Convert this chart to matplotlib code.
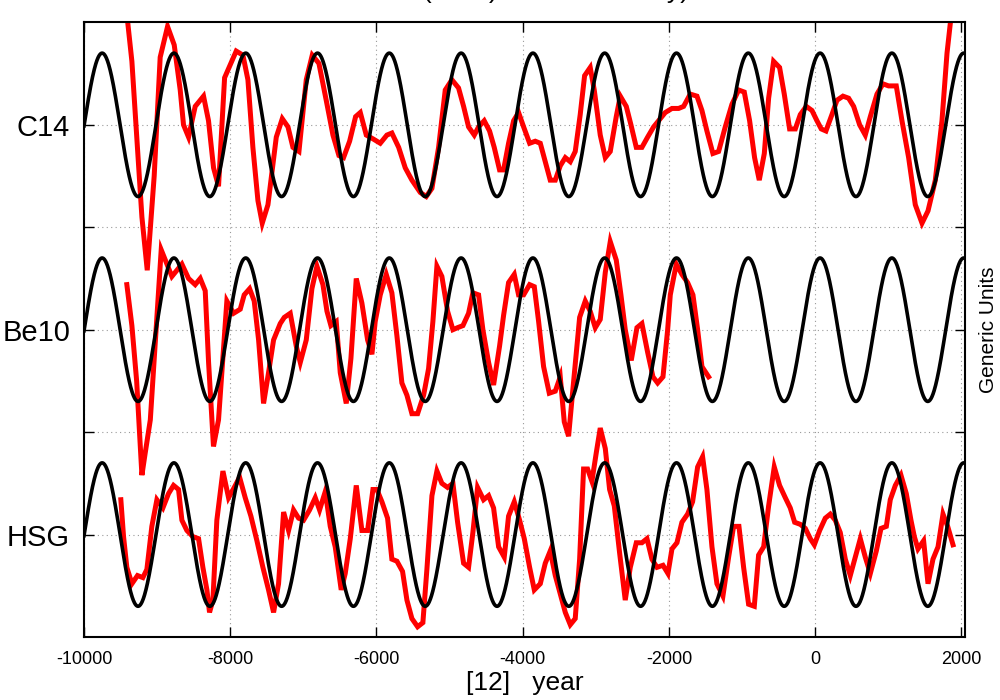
import numpy as np
import matplotlib.pyplot as plt
import matplotlib as mpl

mpl.rcParams["font.family"] = ["Liberation Sans", "DejaVu Sans"]
mpl.rcParams["axes.unicode_minus"] = False

# red proxy curves (deviation from row level, generic units)
c14_year = [-9450, -9345, -9208, -9135, -9040, -8958, -8857, -8766, -8684, -8639, -8570, -8479,
            -8365, -8297, -8228, -8160, -8077, -7918, -7826, -7758, -7690, -7621, -7562, -7484,
            -7370, -7288, -7210, -7142, -7060, -6960, -6878, -6787, -6687, -6595, -6513, -6450,
            -6367, -6285, -6221, -6139, -6040, -5948, -5857, -5789, -5696, -5606, -5515, -5401,
            -5319, -5241, -5150, -5059, -4968, -4877, -4808, -4740, -4662, -4603, -4526, -4453,
            -4389, -4316, -4261, -4193, -4124, -4056, -3987, -3905, -3828, -3759, -3691, -3623,
            -3554, -3486, -3417, -3349, -3281, -3213, -3153, -3076, -3021, -2939, -2870, -2802,
            -2720, -2665, -2583, -2519, -2446, -2369, -2291, -2209, -2118, -2050, -1958, -1867,
            -1799, -1708, -1616, -1548, -1480, -1398, -1320, -1229, -1138, -1046, -969, -896,
            -828, -764, -695, -636, -568, -486, -422, -349, -271, -203, -121, -43, 25, 84, 148,
            230, 299, 381, 458, 527, 609, 686, 755, 846, 928, 1005, 1110, 1188, 1279, 1370, 1462,
            1544, 1644, 1735, 1804, 1863, 1920]
c14_val = [0.66, 0.31, -0.45, -0.71, -0.25, 0.33, 0.48, 0.39, 0.17, 0.0, -0.06, 0.09,
           0.14, 0.02, -0.21, -0.30, 0.23, 0.36, 0.34, 0.22, -0.11, -0.37, -0.48, -0.39,
           -0.06, 0.03, -0.01, -0.11, -0.13, 0.22, 0.34, 0.30, 0.12, -0.05, -0.15, -0.16,
           -0.08, 0.04, 0.06, -0.05, -0.07, -0.09, -0.05, -0.04, -0.11, -0.21, -0.27, -0.33,
           -0.35, -0.31, -0.11, 0.17, 0.22, 0.18, 0.09, -0.01, -0.05, -0.01, 0.02, -0.03,
           -0.11, -0.22, -0.22, -0.09, 0.02, 0.06, -0.01, -0.09, -0.08, -0.09, -0.18, -0.27,
           -0.27, -0.20, -0.16, -0.18, -0.13, 0.05, 0.24, 0.28, 0.17, -0.05, -0.16, -0.13,
           0.04, 0.14, 0.09, 0.0, -0.11, -0.11, -0.06, -0.01, 0.03, 0.06, 0.08, 0.08,
           0.09, 0.15, 0.14, 0.07, -0.03, -0.14, -0.13, -0.01, 0.10, 0.17, 0.16, 0.02,
           -0.16, -0.27, -0.14, 0.13, 0.31, 0.28, 0.15, -0.02, -0.02, 0.05, 0.09, 0.07, 0.02, -0.02, -0.03,
           0.05, 0.12, 0.14, 0.13, 0.09, 0.0, -0.05, 0.04, 0.15, 0.20, 0.19, 0.19, 0.02, -0.16, -0.39, -0.48,
           -0.42, -0.27, 0.02, 0.35, 0.54, 0.85]

be10_year = [-9414, -9345, -9280, -9208, -9162, -9093, -8944, -8798, -8661, -8570, -8479, -8410,
             -8342, -8296, -8229, -8160, -8046, -7954, -7863, -7809, -7735, -7672, -7612, -7544,
             -7476, -7407, -7316, -7261, -7179, -7097, -7042, -6960, -6883, -6814, -6732, -6677,
             -6623, -6550, -6495, -6413, -6349, -6276, -6199, -6121, -6062, -6017, -5948, -5866,
             -5789, -5720, -5652, -5583, -5515, -5437, -5355, -5287, -5228, -5173, -5105, -5027,
             -4954, -4890, -4817, -4740, -4681, -4603, -4544, -4466, -4398, -4316, -4261, -4193,
             -4115, -4056, -3987, -3905, -3841, -3782, -3714, -3636, -3554, -3486, -3431, -3372,
             -3313, -3221, -3144, -3076, -3007, -2939, -2870, -2802, -2720, -2656, -2597, -2515,
             -2437, -2369, -2291, -2218, -2154, -2081, -2017, -1981, -1899, -1822, -1744, -1671,
             -1607, -1548, -1457]
be10_val = [0.22, 0.02, -0.25, -0.71, -0.60, -0.44, 0.39, 0.26, 0.32, 0.25, 0.22, 0.25,
            0.19, -0.16, -0.57, -0.44, 0.14, 0.08, 0.10, 0.17, 0.20, 0.14, -0.05, -0.36,
            -0.21, -0.05, 0.03, 0.06, 0.08, -0.08, -0.16, -0.05, 0.20, 0.31, 0.22, 0.09,
            0.02, 0.04, -0.21, -0.36, -0.14, 0.25, 0.13, -0.05, -0.12, 0.04, 0.17, 0.27,
            0.18, -0.03, -0.26, -0.32, -0.41, -0.41, -0.32, -0.19, 0.04, 0.31, 0.26, 0.09,
            0.0, 0.01, 0.02, 0.08, 0.18, 0.17, 0.0, -0.16, -0.27, -0.08, 0.07, 0.23,
            0.27, 0.17, 0.17, 0.22, 0.21, 0.04, -0.18, -0.31, -0.30, -0.23, -0.45, -0.52,
            -0.29, 0.06, 0.14, 0.09, 0.01, 0.05, 0.28, 0.43, 0.34, 0.17, 0.0, -0.15,
            0.01, 0.03, -0.11, -0.23, -0.26, -0.23, 0.0, 0.17, 0.32, 0.27, 0.23, 0.17,
            0.0, -0.18, -0.23]

hsg_year = [-9496, -9459, -9414, -9345, -9268, -9195, -9140, -9072, -9003, -8921, -8844, -8775,
            -8707, -8661, -8593, -8511, -8433, -8374, -8319, -8283, -8237, -8183, -8100, -8023,
            -7945, -7872, -7795, -7717, -7635, -7553, -7476, -7407, -7339, -7270, -7202, -7134,
            -7065, -6997, -6915, -6837, -6778, -6700, -6632, -6564, -6482, -6427, -6358, -6276,
            -6199, -6121, -6048, -5994, -5925, -5848, -5789, -5720, -5643, -5583, -5515, -5437,
            -5365, -5310, -5241, -5173, -5105, -5027, -4954, -4890, -4808, -4740, -4681, -4617,
            -4535, -4466, -4398, -4329, -4252, -4193, -4115, -4042, -3978, -3905, -3841, -3759,
            -3691, -3623, -3554, -3486, -3417, -3349, -3281, -3221, -3167, -3112, -3053, -2993,
            -2939, -2870, -2811, -2747, -2674, -2597, -2528, -2446, -2369, -2300, -2232, -2163,
            -2081, -2013, -1958, -1890, -1822, -1744, -1676, -1607, -1539, -1480, -1411, -1343,
            -1261, -1183, -1115, -1042, -978, -910, -832, -773, -704, -636, -559, -486, -408,
            -340, -280, -203, -134, -66, -11, 62, 139, 208, 276, 344, 413, 481, 550, 618, 686,
            755, 837, 901, 974, 1028, 1097, 1174, 1247, 1311, 1357, 1407, 1484, 1544, 1612, 1681,
            1749, 1813, 1886]
hsg_val = [0.17, -0.01, -0.16, -0.24, -0.20, -0.21, -0.17, 0.04, 0.17, 0.13, 0.20, 0.24,
           0.22, 0.07, 0.02, -0.01, -0.02, -0.16, -0.27, -0.38, -0.32, 0.07, 0.31, 0.18,
           0.23, 0.28, 0.18, 0.09, -0.03, -0.16, -0.27, -0.38, -0.24, 0.11, 0.02, 0.12,
           0.08, 0.07, 0.12, 0.18, 0.12, 0.21, 0.04, -0.06, -0.27, -0.19, -0.02, 0.24,
           0.02, 0.02, 0.22, 0.22, 0.16, 0.08, -0.12, -0.13, -0.18, -0.32, -0.41, -0.45,
           -0.43, -0.17, 0.19, 0.31, 0.25, 0.23, 0.25, 0.06, -0.14, -0.16, 0.01, 0.23,
           0.17, 0.19, 0.13, -0.06, -0.11, 0.09, 0.16, 0.07, -0.02, -0.16, -0.27, -0.24,
           -0.14, -0.08, -0.20, -0.29, -0.38, -0.44, -0.41, -0.12, 0.32, 0.32, 0.26, 0.40,
           0.52, 0.42, 0.22, 0.14, -0.09, -0.32, -0.16, -0.04, -0.04, -0.02, -0.12, -0.16,
           -0.15, -0.19, -0.07, -0.04, 0.06, 0.10, 0.16, 0.33, 0.38, 0.22, -0.06, -0.24,
           -0.30, -0.11, 0.04, 0.04, -0.16, -0.34, -0.35, -0.10, -0.06, 0.14, 0.33, 0.24, 0.18,
           0.13, 0.06, 0.05, 0.03, -0.02, -0.05, 0.02, 0.08, 0.10, 0.07, 0.01, -0.12, -0.20, -0.11, -0.02, -0.11,
           -0.19, -0.08, 0.03, 0.04, 0.17, 0.24, 0.29, 0.20, 0.07, -0.01, -0.07, -0.03, -0.24, -0.12, -0.06,
           0.10, 0.04, -0.05]

row_names = ["HSG", "Be10", "C14"]
row_level = [0, 1, 2]

# black reference cycle
cycle_period = 982.0
cycle_peak = 2032.0
cycle_amp = 0.35

fig = plt.figure(figsize=(10, 7), dpi=100)
ax = fig.add_axes([0.084, 0.09, 0.881, 0.878])

t = np.linspace(-10000, 2050, 3000)
for lev in row_level:
    ax.plot(t, lev + cycle_amp * np.cos(2 * np.pi * (t - cycle_peak) / cycle_period),
            color="black", lw=2.6, zorder=3)

for yr, v, lev in zip([hsg_year, be10_year, c14_year], [hsg_val, be10_val, c14_val], row_level):
    ax.plot(yr, np.array(v) + lev, color="#ff0000", lw=3.6, zorder=2,
            solid_joinstyle="miter")

ax.set_xlim(-10000, 2050)
ax.set_ylim(-0.5, 2.5)
ax.set_xticks(np.arange(-10000, 2001, 2000))
ax.set_yticks([0, 0.5, 1, 1.5, 2])
ax.set_yticklabels(["HSG", "", "Be10", "", "C14"], fontsize=21)
ax.tick_params(axis="x", labelsize=13, pad=10)
ax.tick_params(axis="y", pad=10)
ax.tick_params(direction="in", length=7, width=1, top=True, right=True)
ax.grid(True, ls=(0, (1, 3)), color="#999999", lw=0.8)
for s in ax.spines.values():
    s.set_linewidth(1.5)

ax.set_xlabel("[12]   year", fontsize=19, labelpad=2)
ax.yaxis.set_label_position("right")
ax.set_ylabel("Generic Units", fontsize=15, labelpad=10)

# title sits almost entirely above the canvas, as in the original
fig.text(0.522, 1 + 2 / 700, "Solar (HSG) Activities 982 y)",
         ha="center", va="baseline", fontsize=19)

fig.savefig("out.png", dpi=100)
